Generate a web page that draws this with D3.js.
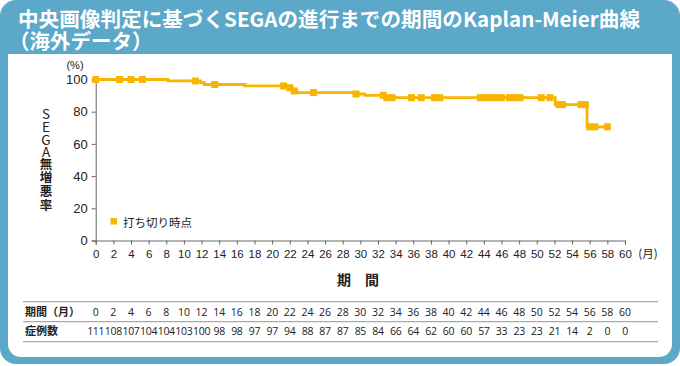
<!DOCTYPE html>
<html><head><meta charset="utf-8">
<script src="https://cdn.jsdelivr.net/npm/d3@7"></script>
<style>body{margin:0;background:#fff}svg{display:block}</style>
</head><body>
<svg id="c" width="680" height="366"></svg>
<script>
// ---- data ----
const titleLines = ["中央画像判定に基づくSEGAの進行までの期間のKaplan-Meier曲線", "（海外データ）"];
const stepTimes = [0, 8.2, 11.9, 12.3, 16.9, 21.6, 22.3, 22.8, 29.3, 30.5, 32.8, 52.1, 55.7];
const stepSurv  = [100, 99.1, 98.0, 96.9, 96.0, 94.9, 92.9, 91.9, 91.0, 90.2, 88.7, 84.4, 70.6];
const endTime = 58.0;
const censorTimes = [0, 2.7, 4.0, 5.3, 11.3, 13.5, 21.3, 22.0, 22.5, 24.7, 29.5, 32.6, 33.0, 33.6,
  35.8, 36.9, 38.4, 39.0, 43.6, 44.2, 44.8, 45.4, 46.0, 46.9, 47.5, 48.1, 50.5, 51.5,
  52.5, 52.9, 55.0, 55.5, 56.0, 56.6, 58.0];
const xTicks = d3.range(0, 61, 2);
const yTicks = [0, 20, 40, 60, 80, 100];
const tablePeriods = [0,2,4,6,8,10,12,14,16,18,20,22,24,26,28,30,32,34,36,38,40,42,44,46,48,50,52,54,56,58,60];
const tableAtRisk = [111,108,107,104,104,103,100,98,98,97,97,94,88,87,87,85,84,66,64,62,60,60,57,33,23,23,21,14,2,0,0];
const yTitleLatin = "SEGA", yTitleKanji = "無増悪率";

// ---- drawing ----
const svg = d3.select("#c");
const blue = "#5ba8c8", orange = "#f7b400";
svg.append("rect").attr("x",0).attr("y",0).attr("width",680).attr("height",364).attr("rx",16).attr("fill",blue);
svg.append("rect").attr("x",8).attr("y",54).attr("width",664).attr("height",303).attr("rx",13).attr("fill","#fff");
svg.append("rect").attr("x",8).attr("y",54).attr("width",664).attr("height",30).attr("fill","#fff");

const title = svg.append("text").attr("y",27)
  .attr("fill","#fff").attr("font-family","'Noto Sans CJK JP', sans-serif").attr("font-weight","bold")
  .attr("font-size",20.5);
title.selectAll("tspan").data(titleLines).join("tspan")
  .attr("x",(d,i)=> i===0 ? 18 : 9).attr("dy",(d,i)=> i===0 ? 0 : 21.5)
  .attr("textLength",(d,i)=> i===0 ? 622 : null).attr("lengthAdjust","spacingAndGlyphs")
  .text(d=>d);

const x = d3.scaleLinear().domain([0,60]).range([95.7,625]);
const y = d3.scaleLinear().domain([0,100]).range([240.5,79.5]);

const gx = svg.append("g").attr("transform","translate(0,240.5)")
  .call(d3.axisBottom(x).tickValues(xTicks).tickSize(4).tickPadding(5).tickFormat(d3.format("d")));
const gy = svg.append("g").attr("transform","translate(95.7,0)")
  .call(d3.axisLeft(y).tickValues(yTicks).tickSize(4).tickPadding(4).tickFormat(d3.format("d")));
[gx,gy].forEach(g=>{
  g.select(".domain").attr("stroke","#666");
  g.selectAll(".tick line").attr("stroke","#666");
  g.selectAll("text").attr("fill","#222").attr("font-family","Arial, 'Liberation Sans', sans-serif");
});
gx.selectAll("text").attr("font-size",11.5);
gy.selectAll("text").attr("font-size",13);

svg.append("text").attr("x",648).attr("y",258).attr("text-anchor","middle").attr("font-size",11.5)
  .attr("font-family","'Noto Sans CJK JP', sans-serif").attr("fill","#222").text("(月)");
svg.append("text").attr("x",75).attr("y",69).attr("text-anchor","middle").attr("font-size",11)
  .attr("font-family","Arial, sans-serif").attr("fill","#222").text("(%)");
svg.append("text").attr("x",358).attr("y",285).attr("text-anchor","middle").attr("font-size",14)
  .attr("font-weight","bold").attr("font-family","'Noto Sans CJK JP', sans-serif").attr("fill","#222").text("期　間");

// vertical y-axis title (single text element)
const yt = svg.append("text").attr("x",46).attr("y",107.5)
  .attr("style","writing-mode: vertical-rl; text-orientation: upright;")
  .attr("fill","#222").attr("font-family","'Noto Sans CJK JP', sans-serif");
yt.append("tspan").attr("font-size",13.5).attr("font-weight","normal").attr("letter-spacing",-0.9).text(yTitleLatin);
yt.append("tspan").attr("font-size",12.5).attr("font-weight","bold").attr("letter-spacing",1.2).text(yTitleKanji);

// KM curve
const pts = stepTimes.map((t,i)=>[t,stepSurv[i]]).concat([[endTime, stepSurv[stepSurv.length-1]]]);
svg.append("path").datum(pts)
  .attr("d", d3.line().x(d=>x(d[0])).y(d=>y(d[1])).curve(d3.curveStepAfter))
  .attr("fill","none").attr("stroke",orange).attr("stroke-width",2.8);
function survAt(t){ let s=100; stepTimes.forEach((st,i)=>{ if(st<=t) s=stepSurv[i]; }); return s; }
svg.selectAll("rect.cens").data(censorTimes).join("rect")
  .attr("x",d=>x(d)-3.5).attr("y",d=>y(survAt(d))-3.5).attr("width",7).attr("height",7).attr("fill",orange);

// legend
svg.append("rect").attr("x",110.5).attr("y",218).attr("width",6.5).attr("height",6.5).attr("fill",orange);
svg.append("text").attr("x",123).attr("y",227).attr("font-size",11.5)
  .attr("font-family","'Noto Sans CJK JP', sans-serif").attr("fill","#222").text("打ち切り時点");

// table
[301.7,321.7,341.7].forEach(yy=>svg.append("line").attr("x1",23).attr("x2",658).attr("y1",yy).attr("y2",yy)
  .attr("stroke","#aaa").attr("stroke-width",1.3));
svg.append("text").attr("x",25).attr("y",316).attr("font-size",11).attr("font-weight","bold")
  .attr("font-family","'Noto Sans CJK JP', sans-serif").attr("fill","#222").text("期間（月）");
svg.append("text").attr("x",25).attr("y",335).attr("font-size",11).attr("font-weight","bold")
  .attr("font-family","'Noto Sans CJK JP', sans-serif").attr("fill","#222").text("症例数");
svg.selectAll("text.tp").data(tablePeriods).join("text")
  .attr("x",d=>x(d)).attr("y",316).attr("text-anchor","middle").attr("font-size",10.5)
  .attr("font-family","'Open Sans', sans-serif").attr("fill","#222").text(d=>d);
svg.selectAll("text.tr").data(tableAtRisk).join("text")
  .attr("x",(d,i)=>x(tablePeriods[i])).attr("y",335).attr("text-anchor","middle").attr("font-size",10.5)
  .attr("letter-spacing",-0.3)
  .attr("font-family","'Open Sans', sans-serif").attr("fill","#222").text(d=>d);
</script>
</body></html>
